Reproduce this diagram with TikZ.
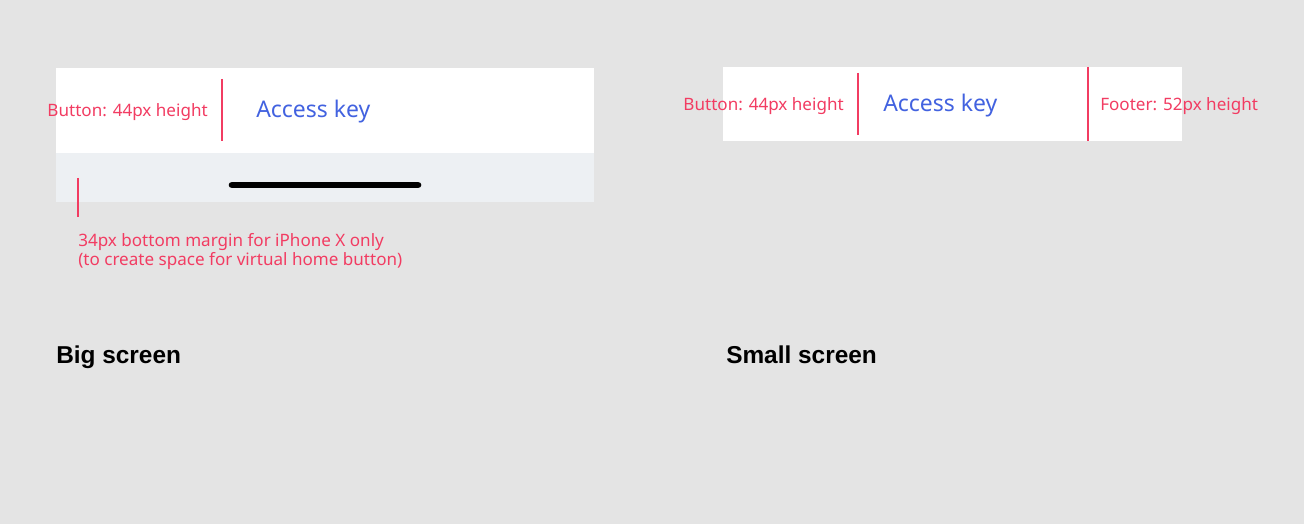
\documentclass[tikz,border=0pt]{standalone}
\usepackage{fontspec}
\setmainfont{Noto Sans}
\newfontfamily\titlefont{Liberation Sans}
\usetikzlibrary{positioning}

\definecolor{canvasgray}{HTML}{E4E4E4}
\definecolor{footgray}{HTML}{EDF0F3}
\definecolor{markred}{HTML}{F23C62}
\definecolor{keyblue}{HTML}{4262E0}

\tikzset{
  panel/.style={fill=white, draw=none, inner sep=0pt, anchor=north west},
  marker/.style={markred, line width=1.5pt},
  redlabel/.style={text=markred, font=\fontsize{12.8}{14.3}\selectfont, inner sep=0pt},
  keylabel/.style={text=keyblue, font=\fontsize{17.2}{20}\selectfont, inner sep=0pt, anchor=west},
  title/.style={font=\titlefont\bfseries\fontsize{18.3}{21}\selectfont, inner sep=0pt, anchor=base west}
}

\begin{document}
\begin{tikzpicture}[x=0.75pt, y=-0.75pt]
    % Draw the canvas
    \fill[canvasgray] (0,0) rectangle (1304,524);
    \useasboundingbox (0,0) rectangle (1304,524);

    % Big screen: button bar and home indicator area
    \node[panel, minimum width=538*0.75pt, minimum height=85*0.75pt] (bigbar) at (56,68) {};
    \node[panel, fill=footgray, minimum width=538*0.75pt, minimum height=49*0.75pt] (bighome) at (56,153) {};
    \coordinate (homeL) at (232,185);
    \coordinate (homeR) at (418,185);
    \draw[line width=5pt, line cap=round] (homeL) -- (homeR);

    % Big screen markers
    \coordinate (bigbtnT) at (222,79);
    \coordinate (bigbtnB) at (222,141);
    \draw[marker] (bigbtnT) -- (bigbtnB);
    \coordinate (bigmargT) at (78,178);
    \coordinate (bigmargB) at (78,217);
    \draw[marker] (bigmargT) -- (bigmargB);

    % Big screen labels
    \node[redlabel, anchor=east] (bigbtn) at (208,112) {Button: 44px height};
    \node[keylabel] (bigkey) at (256,112) {Access key};
    \node[redlabel, anchor=north west, align=left] (bigmarg) at (78,233)
      {34px bottom margin for iPhone X only\\(to create space for virtual home button)};
    \node[title] (bigtitle) at (56,363) {Big screen};

    % Small screen: button bar
    \node[panel, minimum width=459*0.75pt, minimum height=74*0.75pt] (smallbar) at (723,67) {};

    % Small screen markers
    \coordinate (smallbtnT) at (858,73);
    \coordinate (smallbtnB) at (858,135);
    \draw[marker] (smallbtnT) -- (smallbtnB);
    \coordinate (smallfootT) at (1088,67);
    \coordinate (smallfootB) at (1088,141);
    \draw[marker] (smallfootT) -- (smallfootB);

    % Small screen labels
    \node[redlabel, anchor=east] (smallbtn) at (844,106) {Button: 44px height};
    \node[keylabel] (smallkey) at (883,106) {Access key};
    \node[redlabel, anchor=west] (smallfoot) at (1100,106) {Footer: 52px height};
    \node[title] (smalltitle) at (726,363) {Small screen};
\end{tikzpicture}
\end{document}
